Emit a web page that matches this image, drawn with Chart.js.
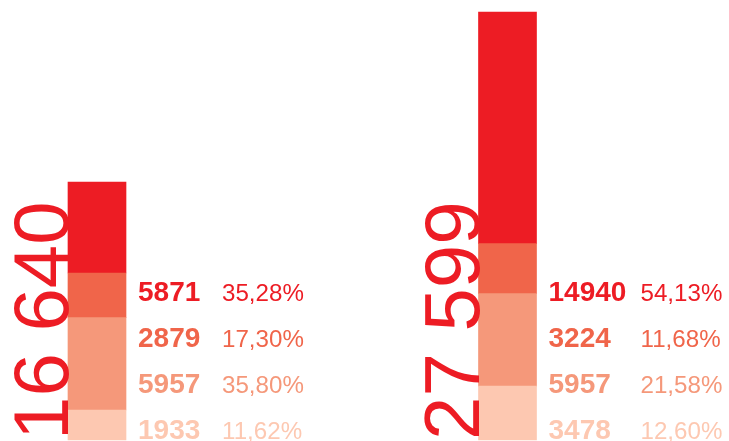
<!DOCTYPE html>
<html lang="en">
<head>
  <meta charset="UTF-8">
  <title>Stacked totals</title>
  <style>
    body {
      margin: 0;
      background: #ffffff;
    }
    .chart-container {
      width: 729px;
      height: 441px;
    }
  </style>
</head>
<body>
  <div class="chart-container">
    <canvas id="barChart"></canvas>
  </div>

  <script src="https://cdn.jsdelivr.net/npm/chart.js"></script>
  <script>
    // Data, one array per segment (top of the stack first)
    const categories = ['A', 'B'];
    const seg1 = [5871, 14940];
    const seg2 = [2879, 3224];
    const seg3 = [5957, 5957];
    const seg4 = [1933, 3478];

    const colors = ['#ed1c24', '#f0654a', '#f5987a', '#fdc8b1'];
    const segments = [seg1, seg2, seg3, seg4];

    const fontFamily = '"Liberation Sans", Arial, sans-serif';

    function fmtTotal(n) {
      return String(n).replace(/\B(?=(\d{3})+(?!\d))/g, ' ');
    }
    function fmtPct(v, total) {
      return (v / total * 100).toFixed(2).replace('.', ',') + '%';
    }

    // Totals and labels beside each bar
    const labelPlugin = {
      id: 'labelPlugin',
      afterDatasetsDraw(chart) {
        const ctx = chart.ctx;
        const yScale = chart.scales.y;
        const pctOffsets = [96, 104];
        const rowY = [300.5, 346.5, 392.5, 438.5];

        categories.forEach((cat, i) => {
          const bar = chart.getDatasetMeta(0).data[i];
          const left = bar.x - bar.width / 2;
          const right = bar.x + bar.width / 2;
          const total = segments.reduce((s, arr) => s + arr[i], 0);

          // big rotated total
          ctx.save();
          ctx.translate(left, yScale.getPixelForValue(0));
          ctx.rotate(-Math.PI / 2);
          ctx.fillStyle = colors[0];
          ctx.font = '78px ' + fontFamily;
          ctx.textAlign = 'left';
          ctx.textBaseline = 'alphabetic';
          ctx.fillText(fmtTotal(total), 0, 0);
          ctx.restore();

          // value + percentage rows
          segments.forEach((arr, k) => {
            ctx.save();
            ctx.fillStyle = colors[k];
            ctx.textAlign = 'left';
            ctx.textBaseline = 'alphabetic';
            ctx.font = 'bold 28px ' + fontFamily;
            ctx.fillText(String(arr[i]), right + 12, rowY[k]);
            // percentages are a touch wider in the original
            ctx.translate(right + pctOffsets[i], rowY[k]);
            ctx.scale(1.05, 1);
            ctx.font = '23px ' + fontFamily;
            ctx.fillText(fmtPct(arr[i], total), 0, 0);
            ctx.restore();
          });
        });
      }
    };

    // stack bottom-up: lightest first
    const datasets = segments.slice().reverse().map((arr, j) => ({
      data: arr,
      backgroundColor: colors[colors.length - 1 - j],
      borderWidth: 0,
      barThickness: 58,
      clip: false
    }));

    const ctx = document.getElementById('barChart').getContext('2d');
    new Chart(ctx, {
      type: 'bar',
      data: {
        labels: categories,
        datasets: datasets
      },
      options: {
        responsive: true,
        maintainAspectRatio: false,
        animation: false,
        layout: {
          padding: { left: 97, right: 221.5, top: 0, bottom: 1 }
        },
        plugins: {
          legend: { display: false },
          tooltip: { enabled: false }
        },
        scales: {
          x: { stacked: true, offset: false, display: false },
          y: { stacked: true, min: 0, max: 28374, display: false }
        }
      },
      plugins: [labelPlugin]
    });
  </script>
</body>
</html>
